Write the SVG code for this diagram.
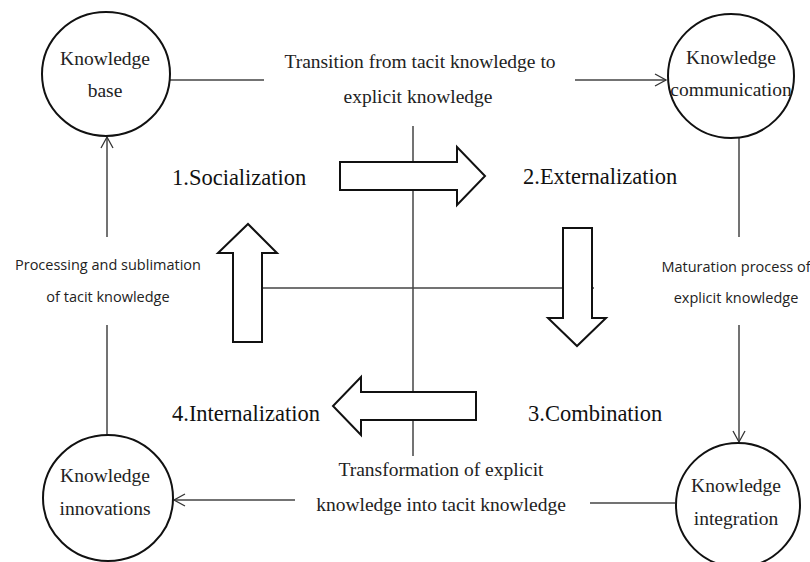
<svg xmlns="http://www.w3.org/2000/svg" width="810" height="562" viewBox="0 0 810 562">
<style>
.node{fill:#fff;stroke:#111;stroke-width:2}
.t{font-family:"Liberation Serif","Times New Roman",serif;font-size:19.5px;fill:#222;text-anchor:middle}
.big{font-family:"Liberation Serif","Times New Roman",serif;font-size:22.5px;fill:#111}
.s{font-family:"Open Sans","Liberation Sans",sans-serif;font-size:14.5px;fill:#222;text-anchor:middle}
.ln{stroke:#444;stroke-width:1.5;fill:none}
.blk{fill:#fff;stroke:#111;stroke-width:2;stroke-linejoin:miter}
</style>
<defs>
<marker id="ah" markerWidth="14" markerHeight="14" refX="12" refY="7" orient="auto" markerUnits="userSpaceOnUse">
<path d="M1,1 L12,7 L1,13" fill="none" stroke="#333" stroke-width="1.3"/>
</marker>
</defs>
<rect width="810" height="562" fill="#fff"/>
<g id="connectors">
<line class="ln" x1="170" y1="80" x2="264" y2="80"/>
<line class="ln" x1="575" y1="80" x2="666" y2="80" marker-end="url(#ah)"/>
<line class="ln" x1="739" y1="138" x2="739" y2="237"/>
<line class="ln" x1="739" y1="325" x2="739" y2="442" marker-end="url(#ah)"/>
<line class="ln" x1="675" y1="503" x2="590" y2="503"/>
<line class="ln" x1="295" y1="500" x2="174" y2="500" marker-end="url(#ah)"/>
<line class="ln" x1="107" y1="435" x2="107" y2="325"/>
<line class="ln" x1="107" y1="237" x2="107" y2="137" marker-end="url(#ah)"/>
<line class="ln" x1="413" y1="126" x2="413" y2="456"/>
<line class="ln" x1="262" y1="288" x2="594" y2="288"/>
</g>
<g id="arrows">
<path id="arrow-right" class="blk" d="M340,162 L457,162 L457,147 L485,176 L457,205 L457,190 L340,190 Z"/>
<path id="arrow-down" class="blk" d="M563,228 L592,228 L592,318 L606,318 L577,346 L548,318 L563,318 Z"/>
<path id="arrow-left" class="blk" d="M476,392 L476,420 L361,420 L361,435 L333,406 L361,377 L361,392 Z"/>
<path id="arrow-up" class="blk" d="M233,342 L233,253 L218,253 L248,224 L277,253 L262,253 L262,342 Z"/>
</g>
<g id="knowledge-base">
<ellipse class="node" cx="106" cy="74" rx="64" ry="62"/>
<text class="t" x="105" y="65">Knowledge</text>
<text class="t" x="105" y="97">base</text>
</g>
<g id="knowledge-communication">
<ellipse class="node" cx="731" cy="76" rx="63" ry="62"/>
<text class="t" x="731" y="64">Knowledge</text>
<text class="t" x="731" y="96">communication</text>
</g>
<g id="knowledge-integration">
<ellipse class="node" cx="738" cy="505" rx="62" ry="62"/>
<text class="t" x="736" y="492">Knowledge</text>
<text class="t" x="736" y="525">integration</text>
</g>
<g id="knowledge-innovations">
<ellipse class="node" cx="108" cy="498" rx="65" ry="63"/>
<text class="t" x="105" y="482">Knowledge</text>
<text class="t" x="105" y="515">innovations</text>
</g>
<g id="labels">
<text class="t" x="420" y="68">Transition from tacit knowledge to</text>
<text class="t" x="418" y="103">explicit knowledge</text>
<text class="t" x="441" y="476">Transformation of explicit</text>
<text class="t" x="441" y="511">knowledge into tacit knowledge</text>
<text class="s" x="108" y="270">Processing and sublimation</text>
<text class="s" x="108" y="302">of tacit knowledge</text>
<text class="s" x="736" y="272">Maturation process of</text>
<text class="s" x="736" y="303">explicit knowledge</text>
<text class="big" x="172" y="185">1.Socialization</text>
<text class="big" x="523" y="184">2.Externalization</text>
<text class="big" x="528" y="421">3.Combination</text>
<text class="big" x="172" y="421">4.Internalization</text>
</g>
</svg>
